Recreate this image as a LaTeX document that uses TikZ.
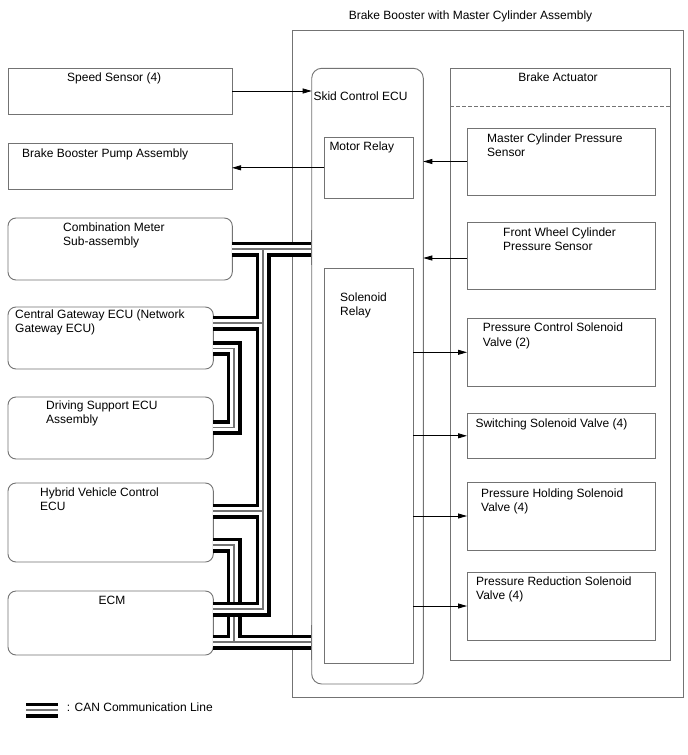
\documentclass[tikz,border=0pt]{standalone}
\usepackage{fontspec}
\setmainfont{Liberation Sans}
\usetikzlibrary{arrows.meta,calc}
\newcommand{\twoln}[2]{\vtop{\hbox{#1}\hbox{#2}}}
\begin{document}
\begin{tikzpicture}[x=1pt,y=-1pt,
  box/.style={draw=black!55, line width=0.9pt, rectangle, inner sep=0pt, outer sep=0pt, anchor=north west},
  rbox/.style={box, rounded corners=8pt},
  txt/.style={anchor=base west, inner sep=0pt, font=\fontsize{12}{14.5}\selectfont},
  ctxt/.style={txt, anchor=base},
  arr/.style={draw=black, line width=0.8pt, -{Triangle[length=9pt,width=5pt]}},
  canB/.style={line width=15pt, draw=black},
  canW/.style={line width=7.6pt, draw=white},
  canG/.style={line width=1.3pt, draw=black!55},
]
\useasboundingbox (0,0) rectangle (688,755);
\fill[white] (0,0) rectangle (688,755);

% outer assembly box
\node[box, minimum width=390.5pt, minimum height=667pt] (outer) at (292.7,30) {};
\node[ctxt] (title) at (470.5,19) {Brake Booster with Master Cylinder Assembly};

% left boxes (needed before pipes for anchors; drawn as nodes)
\node[box, minimum width=224pt, minimum height=46pt] (speed) at (8,68) {};
\node[box, minimum width=224pt, minimum height=46pt] (pump) at (8,143) {};
\node[rbox, minimum width=224.3pt, minimum height=62pt] (cmeter) at (8,218) {};
\node[rbox, minimum width=205.3pt, minimum height=62pt] (cgw) at (8,307) {};
\node[rbox, minimum width=205.3pt, minimum height=62pt] (dsecu) at (8,397) {};
\node[rbox, minimum width=205.3pt, minimum height=79pt] (hv) at (8,483) {};
\node[rbox, minimum width=205.3pt, minimum height=64pt] (ecm) at (8,591) {};

% skid control ECU and relays
\node[box, rounded corners=10pt, minimum width=111.6pt, minimum height=615.7pt] (skid) at (311.7,68.3) {};
\node[box, minimum width=89pt, minimum height=61pt] (motor) at (324.3,137.3) {};
\node[box, minimum width=89pt, minimum height=395pt] (solrel) at (324.3,268) {};

% brake actuator
\node[box, minimum width=220pt, minimum height=592pt] (act) at (450,68) {};
\coordinate (dashy) at (0,106.7);
\draw[draw=black!55, line width=0.9pt, dashed, dash pattern=on 4pt off 2pt] (act.west |- dashy) -- (act.east |- dashy);
\node[box, minimum width=188pt, minimum height=67pt] (mcps) at (467,128) {};
\node[box, minimum width=188pt, minimum height=67pt] (fwps) at (467,222) {};
\node[box, minimum width=188pt, minimum height=68pt] (pcsv) at (467,318.3) {};
\node[box, minimum width=188pt, minimum height=45pt] (swsv) at (467,413.3) {};
\node[box, minimum width=188pt, minimum height=68pt] (phsv) at (467,482) {};
\node[box, minimum width=188pt, minimum height=68pt] (prsv) at (467,572) {};

% CAN pipe coordinates
\coordinate (y249) at (0,249);
\coordinate (y323) at (0,323);
\coordinate (y348) at (0,348.5);
\coordinate (y427) at (0,427.5);
\coordinate (y511) at (0,511);
\coordinate (y545) at (0,545);
\coordinate (y609) at (0,609);
\coordinate (y642) at (0,642);
\coordinate (tr) at (263,0);
\coordinate (lp) at (234,0);

% group B (lower layer)
\foreach \s in {canB,canW,canG}{
  \draw[\s] (cgw.east |- y348) -- (lp |- y348) -- (lp |- y427) -- (dsecu.east |- y427);
  \draw[\s] (hv.east |- y545) -- (lp |- y545) -- (lp |- y642);
  \draw[\s] (ecm.east |- y642) -- (skid.west |- y642);
}
% group A (upper layer)
\foreach \s in {canB,canW,canG}{
  \draw[\s] (cmeter.east |- y249) -- (skid.west |- y249);
  \draw[\s] (tr |- y249) -- (tr |- y609) -- (ecm.east |- y609);
  \draw[\s] (cgw.east |- y323) -- (tr |- y323);
  \draw[\s] (hv.east |- y511) -- (tr |- y511);
}

% redraw left edge of skid ECU over pipe ends
\draw[draw=black!55, line width=0.9pt] (skid.west |- 0,230) -- (skid.west |- 0,265);
\draw[draw=black!55, line width=0.9pt] (skid.west |- 0,625) -- (skid.west |- 0,660);

% texts
\node[txt] (tspeed) at (67,81) {Speed Sensor (4)};
\node[txt] (tpump) at (22,157) {Brake Booster Pump Assembly};
\node[txt] (tcm) at (63,231) {\twoln{Combination Meter}{Sub-assembly}};
\node[txt] (tcg) at (15,318) {\twoln{Central Gateway ECU (Network}{Gateway ECU)}};
\node[txt] (tds) at (46,409) {\twoln{Driving Support ECU}{Assembly}};
\node[txt] (thv) at (40,496) {\twoln{Hybrid Vehicle Control}{ECU}};
\node[ctxt] (tecm) at (112,604) {ECM};
\node[txt] (tskid) at (313.3,100.5) {Skid Control ECU};
\node[txt] (tmotor) at (329.3,150.7) {Motor Relay};
\node[txt] (tsol) at (340,301) {\twoln{Solenoid}{Relay}};
\node[ctxt] (tact) at (558,81) {Brake Actuator};
\node[txt] (tmcps) at (487,142) {\twoln{Master Cylinder Pressure}{Sensor}};
\node[txt] (tfwps) at (503,236) {\twoln{Front Wheel Cylinder}{Pressure Sensor}};
\node[txt] (tpcsv) at (482.7,331.7) {\twoln{Pressure Control Solenoid}{Valve (2)}};
\node[txt] (tswsv) at (475.3,427) {Switching Solenoid Valve (4)};
\node[txt] (tphsv) at (481,497) {\twoln{Pressure Holding Solenoid}{Valve (4)}};
\node[txt] (tprsv) at (476,585) {\twoln{Pressure Reduction Solenoid}{Valve (4)}};

% arrows
\draw[arr] (speed.east) -- (speed.east -| skid.west);
\draw[arr] (motor.west) -- (motor.west -| pump.east);
\draw[arr] (mcps.west) -- (mcps.west -| skid.east);
\coordinate (fwin) at ($(fwps.west)+(0,2.5)$);
\draw[arr] (fwin) -- (fwin -| skid.east);
\draw[arr] (pcsv.west -| solrel.east) -- (pcsv.west);
\draw[arr] (swsv.west -| solrel.east) -- (swsv.west);
\draw[arr] (phsv.west -| solrel.east) -- (phsv.west);
\draw[arr] (prsv.west -| solrel.east) -- (prsv.west);

% legend
\coordinate (legA) at (26,710);
\coordinate (legB) at (58.3,710);
\foreach \s in {canB,canW,canG}{
  \draw[\s] (legA) -- (legB);
}
\node[txt] (tleg) at (66.7,711) {: CAN Communication Line};
\end{tikzpicture}
\end{document}
